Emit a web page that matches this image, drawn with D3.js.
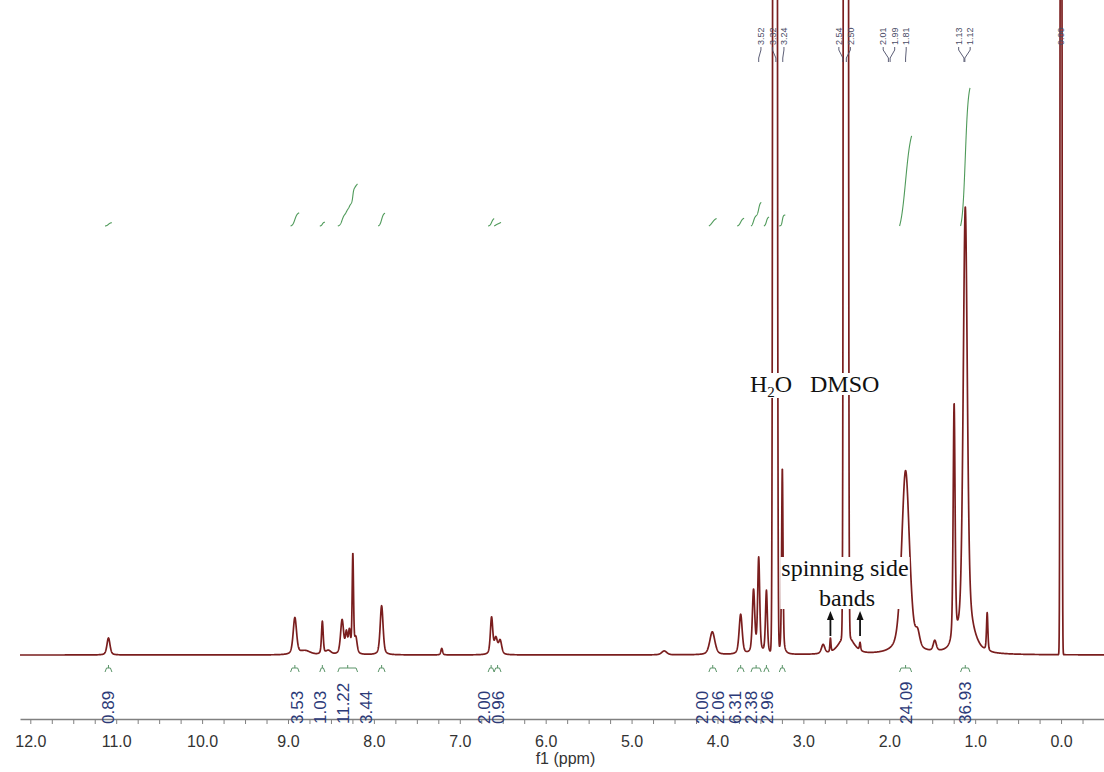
<!DOCTYPE html>
<html>
<head>
<meta charset="utf-8">
<script src="https://cdn.jsdelivr.net/npm/d3@7"></script>
<style>
  html, body { margin: 0; padding: 0; background: #fff; }
  svg { display: block; }
</style>
</head>
<body>
<svg id="chart" width="1104" height="772"></svg>
<script>
// ---- 1H NMR spectrum (DMSO-d6): resolved signals ----
// chemical shift (ppm), peak height (% of plot height), line width sigma (ppm)
const shiftPpm   = [11.09, 8.92, 8.80, 8.60, 8.53, 8.37, 8.32, 8.285, 8.245, 8.21, 7.91, 7.21,
                    6.63, 6.58, 6.53, 4.62, 4.06, 3.73, 3.58, 3.52, 3.43, 3.33, 3.245,
                    2.77, 2.685, 2.505, 2.50, 2.34, 1.81, 1.67, 1.47, 1.245, 1.115, 1.08, 0.86, 0.00];
const peakHeight = [2.6, 5.6, 0.6, 5.0, 0.6, 5.2, 3.0, 3.3, 15.0, 2.3, 7.5, 1.0,
                    5.6, 2.4, 2.1, 0.6, 3.5, 6.1, 9.6, 14.5, 9.6, 1400, 28.5,
                    1.4, 2.1, 3000, 3.0, 1.2, 28.0, 2.2, 1.6, 36.5, 65.5, 3.0, 5.8, 400];
const peakSigma  = [0.018, 0.02, 0.06, 0.01, 0.03, 0.018, 0.012, 0.012, 0.008, 0.015, 0.017, 0.01,
                    0.014, 0.018, 0.018, 0.03, 0.03, 0.018, 0.014, 0.012, 0.011, 0.0125, 0.008,
                    0.02, 0.006, 0.012, 0.08, 0.007, 0.046, 0.025, 0.018, 0.011, 0.024, 0.08, 0.008, 0.007];

// ---- integration regions (ppm) and integral values ----
const integralFrom  = [11.13, 8.97, 8.63, 8.42, 7.95, 6.67, 6.60, 4.10, 3.77, 3.61, 3.46, 3.28, 1.88, 1.17];
const integralTo    = [11.05, 8.87, 8.57, 8.19, 7.87, 6.60, 6.52, 4.01, 3.69, 3.49, 3.40, 3.21, 1.74, 1.06];
const integralValue = [0.89, 3.53, 1.03, 11.22, 3.44, 2.00, 0.96, 2.00, 2.06, 6.31, 2.38, 2.96, 24.09, 36.93];

// ---- peak-pick labels (ppm) and their label groups ----
const pickLabels = ["3.52", "3.32", "3.24", "2.54", "2.50", "2.01", "1.99", "1.81", "1.13", "1.12", "0.00"];
const pickGroup  = [0, 0, 0, 1, 1, 2, 2, 2, 3, 3, 4];

// ---- axis ticks ----
const majorTicks = [12, 11, 10, 9, 8, 7, 6, 5, 4, 3, 2, 1, 0];
const minorTicks = d3.range(-2, 49).map(k => k / 4);

// spinning side bands marked with arrows (ppm)
const sidebandPpm = [2.685, 2.34];

// ---- layout ----
const W = 1104, H = 772;
const baseY = 655, axisY = 719;
// positions of the integral value labels along the shift axis (packed under their regions)
const integralLabelPpm = [11.09, 8.90, 8.63, 8.36, 8.09, 6.72, 6.56, 4.18, 3.99, 3.80, 3.61, 3.42, 1.81, 1.12];

const svg = d3.select("#chart");
const x = d3.scaleLinear().domain([12.12, -0.5]).range([20, 1104]);
const y = d3.scaleLinear().domain([0, 100]).range([baseY, 0]);
const yInt = d3.scaleLinear().domain([0, 10]).range([226, 226 - 37.4]);

// pseudo-Voigt line shape; the huge solvent/reference lines stay gaussian
function intensity(p) {
  let s = 0;
  for (let i = 0; i < shiftPpm.length; i++) {
    const d = p - shiftPpm[i];
    const sg = peakSigma[i];
    const h = peakHeight[i];
    const e = (d * d) / (2 * sg * sg);
    const g = e < 40 ? Math.exp(-e) : 0;
    if (h >= 100) { s += h * g; continue; }
    const hw = sg * 1.1774;
    const l = 1 / (1 + (d * d) / (hw * hw));
    s += h * (0.45 * l + 0.55 * g);
  }
  return s;
}

// ---- spectrum trace ----
const step = 0.002;
const grid = d3.range(12.12, -0.5 - step, -step);
const spectrum = grid.map(p => [p, intensity(p)]);
const line = d3.line().x(d => x(d[0])).y(d => Math.max(-50, y(d[1])));

svg.append("defs").append("clipPath").attr("id", "plotClip")
  .append("rect").attr("x", 0).attr("y", 0).attr("width", W).attr("height", axisY);

svg.append("path")
  .datum(spectrum)
  .attr("clip-path", "url(#plotClip)")
  .attr("fill", "none")
  .attr("stroke", "#7a1e1e")
  .attr("stroke-width", 1.7)
  .attr("stroke-linejoin", "round")
  .attr("d", line);

// ---- integral curves (cumulative area inside each region) ----
const intGreen = "#4f9a5a";
integralFrom.forEach((a, i) => {
  const b = integralTo[i];
  const n = 120;
  const pts = d3.range(n + 1).map(k => a - (a - b) * k / n);
  let cum = 0;
  const raw = pts.map((p, k) => {
    if (k > 0) cum += (intensity(p) + intensity(pts[k - 1])) / 2;
    return [p, cum];
  });
  const scale = integralValue[i] / cum;
  const curve = raw.map(([p, c]) => [p, c * scale]);
  svg.append("path")
    .datum(curve)
    .attr("fill", "none")
    .attr("stroke", intGreen)
    .attr("stroke-width", 1.1)
    .attr("d", d3.line().x(d => x(d[0])).y(d => yInt(d[1])));
});

// ---- integral region brackets under the baseline ----
integralFrom.forEach((a, i) => {
  const x1 = x(a), x2 = x(integralTo[i]), xm = (x1 + x2) / 2;
  const yb = 668;
  svg.append("path")
    .attr("fill", "none")
    .attr("stroke", "#5a9468")
    .attr("stroke-width", 1)
    .attr("d", `M${x1},${yb + 4}L${x1 + 1.5},${yb}L${x2 - 1.5},${yb}L${x2},${yb + 4}M${xm},${yb}L${xm},${yb - 3}`);
});

// ---- x axis ----
const axisG = svg.append("g").attr("transform", `translate(0,${axisY})`);
axisG.call(d3.axisBottom(x)
  .tickValues(minorTicks)
  .tickSize(5)
  .tickSizeOuter(0)
  .tickPadding(12)
  .tickFormat(d => majorTicks.includes(d) ? d3.format(".1f")(d) : ""));
axisG.select(".domain").attr("stroke", "#808080").attr("stroke-width", 1.5);
axisG.selectAll(".tick line").attr("stroke", "#808080").attr("stroke-width", 1);
axisG.selectAll(".tick text")
  .attr("fill", "#333")
  .style("font-family", "'Liberation Sans', Arial, sans-serif")
  .style("font-size", "16px");

svg.append("text")
  .attr("x", x(5.77)).attr("y", 764)
  .attr("text-anchor", "middle")
  .attr("fill", "#333")
  .style("font-family", "'Liberation Sans', Arial, sans-serif")
  .style("font-size", "16px")
  .text("f1 (ppm)");

// ---- integral value labels ----
integralValue.forEach((v, i) => {
  svg.append("text")
    .attr("transform", `translate(${x(integralLabelPpm[i])},724) rotate(-90)`)
    .attr("dy", "0.35em")
    .attr("text-anchor", "start")
    .attr("fill", "#2c3a78")
    .style("font-family", "'Liberation Sans', Arial, sans-serif")
    .style("font-size", "17px")
    .text(d3.format(".2f")(v));
});

// ---- peak-pick labels with connector lines ----
const groups = d3.group(pickLabels.map((t, i) => ({ t, ppm: +t, g: pickGroup[i] })), d => d.g);
const labelGap = 11.5;
groups.forEach(members => {
  const centre = d3.mean(members, m => x(m.ppm));
  members.forEach((m, k) => {
    const lx = centre + (k - (members.length - 1) / 2) * labelGap;
    const px = x(m.ppm);
    svg.append("text")
      .attr("transform", `translate(${lx},45) rotate(-90)`)
      .attr("dy", "0.35em")
      .attr("fill", "#4a4c66")
      .style("font-family", "'Liberation Sans', Arial, sans-serif")
      .style("font-size", "9px")
      .text(m.t);
    if (members.length > 1) {
      svg.append("path")
        .attr("fill", "none")
        .attr("stroke", "#4a4c66")
        .attr("stroke-width", 0.9)
        .attr("d", `M${lx},47L${lx},50L${px},58L${px},62`);
    }
  });
});

// ---- annotations ----
const serif = "'Liberation Serif', 'Times New Roman', serif";
function boxedText(g) {
  const bb = g.node().getBBox();
  g.insert("rect", ":first-child")
    .attr("x", bb.x - 1).attr("y", bb.y + 2)
    .attr("width", bb.width + 2).attr("height", bb.height - 4)
    .attr("fill", "#fff");
}

const h2o = svg.append("g");
const h2oText = h2o.append("text")
  .attr("x", 750).attr("y", 392)
  .attr("fill", "#111")
  .style("font-family", serif)
  .style("font-size", "24px");
h2oText.append("tspan").text("H");
h2oText.append("tspan").attr("dy", 5).style("font-size", "15px").text("2");
h2oText.append("tspan").attr("dy", -5).text("O");
boxedText(h2o);

const dmso = svg.append("g");
dmso.append("text")
  .attr("x", 810).attr("y", 392)
  .attr("fill", "#111")
  .style("font-family", serif)
  .style("font-size", "24px")
  .text("DMSO");
boxedText(dmso);

const ssb = svg.append("g");
ssb.append("text")
  .attr("x", 845).attr("y", 576)
  .attr("text-anchor", "middle")
  .attr("fill", "#111")
  .style("font-family", serif)
  .style("font-size", "24px")
  .text("spinning side");
ssb.append("text")
  .attr("x", 847).attr("y", 606)
  .attr("text-anchor", "middle")
  .attr("fill", "#111")
  .style("font-family", serif)
  .style("font-size", "24px")
  .text("bands");
boxedText(ssb);

sidebandPpm.forEach(p => {
  const ax = x(p);
  svg.append("line")
    .attr("x1", ax).attr("x2", ax)
    .attr("y1", 636).attr("y2", 617)
    .attr("stroke", "#111").attr("stroke-width", 1.8);
  svg.append("path")
    .attr("fill", "#111")
    .attr("d", `M${ax},611L${ax - 3.5},620L${ax + 3.5},620Z`);
});
</script>
</body>
</html>
